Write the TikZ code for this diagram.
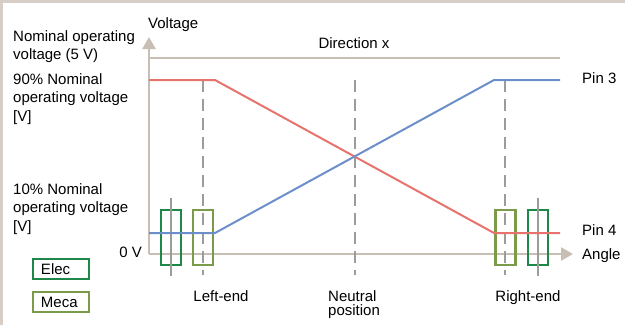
\documentclass[tikz,border=0pt]{standalone}
\usepackage{fontspec}
\setmainfont{Liberation Sans}
\usepackage{xcolor}
\usetikzlibrary{positioning,arrows.meta}

\definecolor{framebeige}{HTML}{D6CEC6}
\definecolor{axisbeige}{HTML}{C8BEB4}
\definecolor{pinred}{HTML}{E8736C}
\definecolor{pinblue}{HTML}{6C8FCB}
\definecolor{elecgreen}{HTML}{1F8747}
\definecolor{mecagreen}{HTML}{7C9B4A}
\definecolor{guidegray}{HTML}{9C9C9C}

\begin{document}
\begin{tikzpicture}[x=1pt, y=-1pt,
    font=\fontsize{15}{18.5}\selectfont,
    axis/.style={draw=axisbeige, line width=2.5pt},
    pin/.style={line width=2pt},
    guide/.style={draw=guidegray, line width=2pt, dash pattern=on 12pt off 7pt},
    rod/.style={draw=guidegray, line width=2pt},
    elec/.style={draw=elecgreen, line width=2.5pt, minimum width=20pt, minimum height=55pt, inner sep=0pt},
    meca/.style={draw=mecagreen, line width=2.5pt, minimum width=20pt, minimum height=55pt, inner sep=0pt},
    lbl/.style={inner sep=0pt},
    key/.style={line width=2.5pt, minimum height=20pt, text width=40pt, inner xsep=8pt, inner ysep=0pt, align=left}]

    \useasboundingbox (0,0) rectangle (625,325);
    \draw[framebeige, line width=3pt] (1.5,325) -- (1.5,1.5) -- (625,1.5);

    % axes
    \coordinate (origin) at (149,254);
    \coordinate (vtop) at (149,37);
    \coordinate (aend) at (573,254);
    \coordinate (dirL) at (149,58);
    \coordinate (dirR) at (560,58);
    \draw[axis, -{Triangle[width=13pt,length=12pt]}] (origin) -- (vtop);
    \draw[axis, -{Triangle[width=13pt,length=12pt]}] (origin) -- (aend);
    \draw[axis, line width=2pt] (dirL) -- (dirR);

    % end positions
    \draw[guide] (203,80) -- (203,275);
    \draw[guide] (355,80) -- (355,275);
    \draw[guide] (505,80) -- (505,275);

    \node[elec] (elecL) at (171,237.5) {};
    \node[meca] (mecaL) at (203,237.5) {};
    \node[meca] (mecaR) at (505.5,237.5) {};
    \node[elec] (elecR) at (538,237.5) {};
    \draw[rod] (171,198) -- (171,276);
    \draw[rod] (538,198) -- (538,276);

    % pin outputs
    \coordinate (r0) at (149,80);
    \coordinate (r1) at (215,80);
    \coordinate (r2) at (494,233);
    \coordinate (r3) at (560,233);
    \coordinate (b0) at (149,233);
    \coordinate (b1) at (215,233);
    \coordinate (b2) at (494,80);
    \coordinate (b3) at (560,80);
    \draw[pin, pinred] (r0) -- (r1) -- (r2) -- (r3);
    \draw[pin, pinblue] (b0) -- (b1) -- (b2) -- (b3);

    % labels
    \node[lbl, anchor=base west] (volt) at (148,28) {Voltage};
    \node[lbl, anchor=base] (dirx) at (354,48) {Direction x};
    \node[lbl, anchor=north west, align=left] (nom) at (13,30) {Nominal operating\\voltage (5 V)};
    \node[lbl, anchor=north west, align=left] (hi) at (13,73) {90\% Nominal\\operating voltage\\{[V]}};
    \node[lbl, anchor=north west, align=left] (lo) at (13,183) {10\% Nominal\\operating voltage\\{[V]}};
    \node[lbl, anchor=base east] (zero) at (142,257) {0 V};
    \node[lbl, anchor=base west] (pin3) at (582,83) {Pin 3};
    \node[lbl, anchor=base west] (pin4) at (582,235) {Pin 4};
    \node[lbl, anchor=base west] (angle) at (582,259) {Angle};
    \node[lbl, anchor=base] (left) at (221,301) {Left-end};
    \node[lbl, anchor=north west, align=left, font=\fontsize{15}{14.5}\selectfont] (neutral) at (328,290) {Neutral\\position};
    \node[lbl, anchor=base] (right) at (528,301) {Right-end};

    % legend
    \node[key, draw=elecgreen] (keyElec) at (61,269) {Elec};
    \node[key, draw=mecagreen, below=10.5pt of keyElec] (keyMeca) {Meca};
\end{tikzpicture}
\end{document}
